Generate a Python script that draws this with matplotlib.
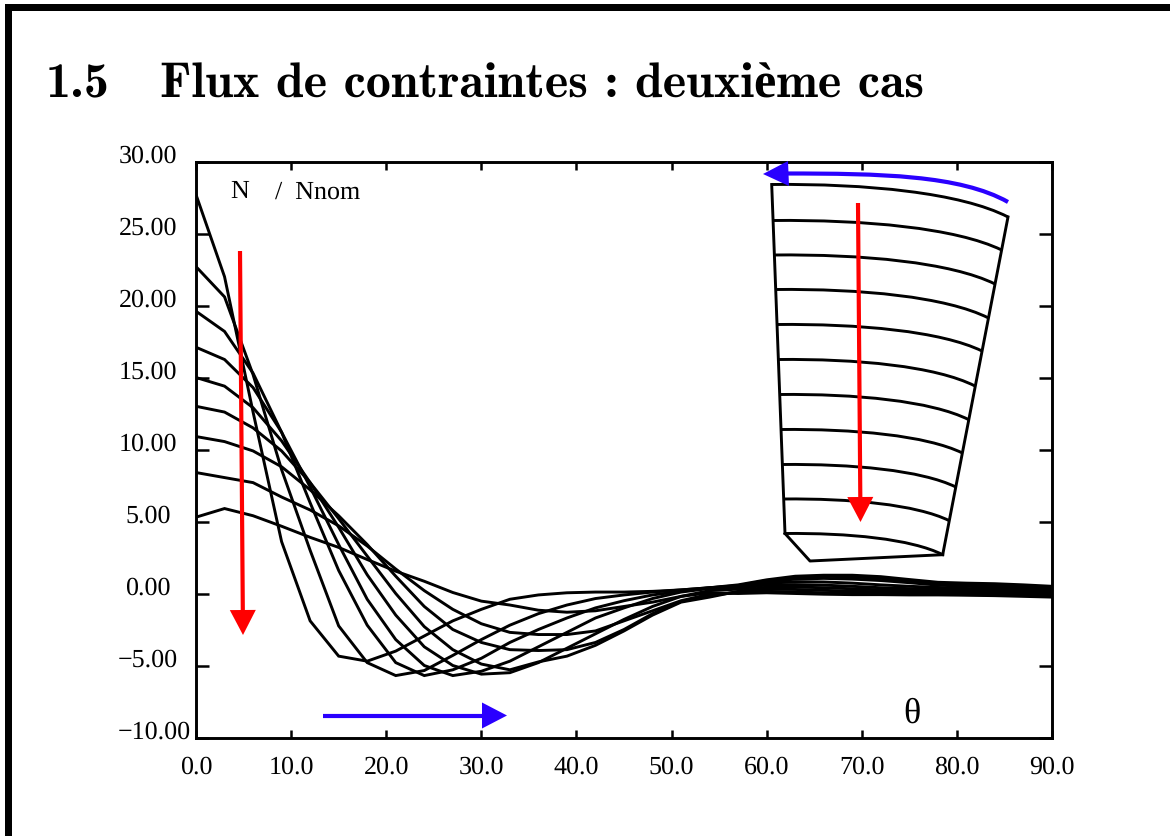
import math
import matplotlib
matplotlib.use("Agg")
import matplotlib.pyplot as plt
from matplotlib.patches import PathPatch, Rectangle, Polygon
from matplotlib.path import Path
from matplotlib.transforms import ScaledTranslation

plt.rcParams["text.hinting"] = "no_hinting"
plt.rcParams["text.hinting_factor"] = 1

W, H = 1170, 837

theta = [0, 3, 6, 9, 12, 15, 18, 21, 24, 27, 30, 33, 36, 39, 42, 45, 48, 51, 54, 57, 60, 63, 66, 69, 72, 75, 78, 81, 84, 87, 90]
c1 = [27.7, 22.0, 12.6, 3.6, -1.9, -4.35, -4.7, -4.0, -2.95, -1.9, -1.1, -0.4, -0.1, 0.05, 0.1, 0.1, 0.15, 0.25, 0.4, 0.6, 0.95, 1.2, 1.27, 1.27, 1.17, 0.97, 0.78, 0.72, 0.68, 0.6, 0.5]
c2 = [22.7, 20.6, 15.2, 8.6, 3.0, -2.25, -4.8, -5.7, -5.35, -4.3, -3.2, -2.2, -1.4, -0.8, -0.35, -0.1, 0.1, 0.25, 0.4, 0.55, 0.9, 1.1, 1.2, 1.15, 1.05, 0.88, 0.7, 0.62, 0.55, 0.48, 0.4]
c3 = [19.6, 18.2, 15.3, 11.2, 6.3, 1.6, -2.2, -4.8, -5.7, -5.3, -4.5, -3.4, -2.5, -1.7, -1.0, -0.5, -0.1, 0.15, 0.4, 0.5, 0.8, 1.0, 1.05, 1.0, 0.9, 0.75, 0.58, 0.5, 0.42, 0.35, 0.28]
c4 = [17.1, 16.25, 14.3, 11.2, 7.4, 3.4, -0.4, -3.2, -5.0, -5.7, -5.4, -4.7, -3.7, -2.7, -1.7, -1.0, -0.35, 0.1, 0.35, 0.4, 0.7, 0.82, 0.8, 0.72, 0.6, 0.5, 0.42, 0.35, 0.28, 0.22, 0.15]
c5 = [15.0, 14.4, 12.9, 10.6, 7.7, 4.6, 1.3, -1.5, -3.7, -5.0, -5.6, -5.5, -4.8, -3.8, -2.8, -1.8, -0.9, -0.2, 0.2, 0.3, 0.6, 0.62, 0.58, 0.5, 0.4, 0.34, 0.28, 0.22, 0.16, 0.1, 0.05]
c6 = [13.0, 12.6, 11.5, 9.9, 7.7, 5.2, 2.6, 0.0, -2.3, -3.9, -4.9, -5.3, -4.75, -4.35, -3.6, -2.6, -1.5, -0.6, -0.25, 0.15, 0.45, 0.45, 0.4, 0.33, 0.25, 0.2, 0.15, 0.1, 0.05, 0.0, -0.05]
c7 = [10.9, 10.55, 9.9, 8.8, 7.2, 5.4, 3.4, 1.2, -0.9, -2.5, -3.4, -3.9, -3.96, -3.9, -3.4, -2.5, -1.4, -0.55, -0.15, 0.1, 0.3, 0.28, 0.22, 0.16, 0.12, 0.08, 0.04, 0.0, -0.04, -0.08, -0.12]
c8 = [8.4, 8.05, 7.7, 6.7, 5.8, 4.7, 3.3, 1.7, 0.2, -1.1, -2.1, -2.7, -2.85, -2.85, -2.6, -1.9, -1.2, -0.5, -0.05, 0.05, 0.15, 0.1, 0.05, 0.02, 0.0, -0.02, -0.05, -0.08, -0.1, -0.14, -0.18]
c9 = [5.3, 5.9, 5.4, 4.67, 3.9, 3.2, 2.36, 1.55, 0.85, 0.07, -0.53, -0.8, -1.16, -1.3, -1.2, -0.9, -0.6, -0.2, 0.05, 0.0, 0.05, 0.0, -0.05, -0.08, -0.08, -0.1, -0.1, -0.12, -0.15, -0.2, -0.25]
curves = [c1, c2, c3, c4, c5, c6, c7, c8, c9]

x_ticks = [0, 10, 20, 30, 40, 50, 60, 70, 80, 90]
x_labels = ["0.0", "10.0", "20.0", "30.0", "40.0", "50.0", "60.0", "70.0", "80.0", "90.0"]
y_ticks = [-10, -5, 0, 5, 10, 15, 20, 25, 30]
y_labels = ["\u221210.00", "\u22125.00", "0.00", "5.00", "10.00", "15.00", "20.00", "25.00", "30.00"]

# Inset blade sketch, in figure pixels
sec_left_x = [771.7, 773, 774.4, 775.7, 777, 778.4, 779.7, 781, 782.4, 783.7, 785]
sec_left_y = [185.5, 221.5, 256, 290.5, 325.5, 360.5, 395.5, 430.5, 465.5, 500, 534.5]
sec_right_x = [1008, 1001.6, 995, 988.5, 982, 975, 968.8, 962.4, 955.8, 949.3, 942.7]
sec_right_y = [218, 251, 285, 319, 352, 387, 420.7, 454, 488, 521.7, 555.7]
root_x = [785, 810, 942.7]
root_y = [534.5, 562, 555.7]

RED = "#ff0000"
BLUE = "#2a00ff"
SERIF = "Liberation Serif"
LW = 2.1

fig = plt.figure(figsize=(W / 100, H / 100), dpi=100, facecolor="white")
L, R, T, B = 196, 1052, 162.5, 738.5
ax = fig.add_axes([L / W, 1 - B / H, (R - L) / W, (B - T) / H])
ax.set_xlim(0, 90)
ax.set_ylim(-10, 30)
for c in curves:
    ax.plot(theta, c, color="black", lw=LW, solid_joinstyle="miter")

for s in ax.spines.values():
    s.set_linewidth(2.1)
ax.set_xticks(x_ticks, x_labels, fontname=SERIF, fontsize=18.5)
ax.set_yticks(y_ticks, y_labels, fontname=SERIF, fontsize=18.5)
ax.tick_params(axis="x", direction="in", top=True, bottom=True, length=5.8, width=1.8, pad=12.5)
ax.tick_params(axis="y", direction="in", left=True, right=True, length=9.5, width=1.8, pad=34.5)
for lab, txt in zip(ax.get_yticklabels(), y_labels):
    lab.set_ha("center")
    dx = 6 / 100 if txt.startswith("\u221210") else 0
    lab.set_transform(lab.get_transform() + ScaledTranslation(dx, 9 / 100, fig.dpi_scale_trans))

# pixel-coordinate overlay
ov = fig.add_axes([0, 0, 1, 1], facecolor="none")
ov.set_xlim(0, W)
ov.set_ylim(H, 0)
ov.axis("off")

# page frame
ov.add_patch(Rectangle((5, 5), W, 7, color="black", lw=0))
ov.add_patch(Rectangle((5, 5), 7, H, color="black", lw=0))

# title
title_font = ["cmb10", "Liberation Serif"]
ov.text(46, 85, "1.5", family=title_font, weight="bold", fontsize=36, va="center", ha="left")
ov.text(160, 85, "Flux de contraintes : deuxi\u00e8me cas", family=title_font, weight="bold", fontsize=36, va="center", ha="left")

ov.text(230, 192, "N", family=SERIF, fontsize=18.5, va="center", ha="left")
ov.text(275, 192, "/  Nnom", family=SERIF, fontsize=18.5, va="center", ha="left")
ov.text(912, 714, "\u03b8", family=SERIF, fontsize=26, va="center", ha="center")

# inset sections
for xl, yl, xr, yr in zip(sec_left_x, sec_left_y, sec_right_x, sec_right_y):
    dx, dy = xr - xl, yr - yl
    verts = [(xl, yl), (xl + 0.4 * dx, yl - 0.03 * dy), (xl + 0.8 * dx, yl + 0.25 * dy), (xr, yr)]
    ov.add_patch(PathPatch(Path(verts, [Path.MOVETO, Path.CURVE4, Path.CURVE4, Path.CURVE4]),
                           fc="none", ec="black", lw=LW))
ov.plot([sec_left_x[0], sec_left_x[-1]], [sec_left_y[0], sec_left_y[-1]], color="black", lw=LW)
ov.plot([sec_right_x[0], sec_right_x[-1]], [sec_right_y[0], sec_right_y[-1]], color="black", lw=LW)
ov.plot(root_x, root_y, color="black", lw=LW)


def arrow(x0, y0, x1, y1, color, head_len=25, head_w=26, lw=3.0):
    a = math.atan2(y1 - y0, x1 - x0)
    bx, by = x1 - head_len * math.cos(a), y1 - head_len * math.sin(a)
    nx, ny = -math.sin(a), math.cos(a)
    ov.plot([x0, bx], [y0, by], color=color, lw=lw, solid_capstyle="butt")
    ov.add_patch(Polygon([(x1, y1), (bx + nx * head_w / 2, by + ny * head_w / 2),
                          (bx - nx * head_w / 2, by - ny * head_w / 2)], color=color, lw=0))


arrow(240, 252, 243, 636, RED)
arrow(858, 204, 860.5, 523, RED)
arrow(323, 716.5, 507, 716.5, BLUE)

# curved blue arrow
ov.add_patch(PathPatch(Path([(1008, 203), (960, 176), (880, 174.5), (786, 174.5)],
                            [Path.MOVETO, Path.CURVE4, Path.CURVE4, Path.CURVE4]),
                       fc="none", ec=BLUE, lw=3.0, capstyle="butt"))
ov.add_patch(Polygon([(763, 175), (788, 162), (789, 187)], color=BLUE, lw=0))

fig.savefig("out.png", dpi=100)
